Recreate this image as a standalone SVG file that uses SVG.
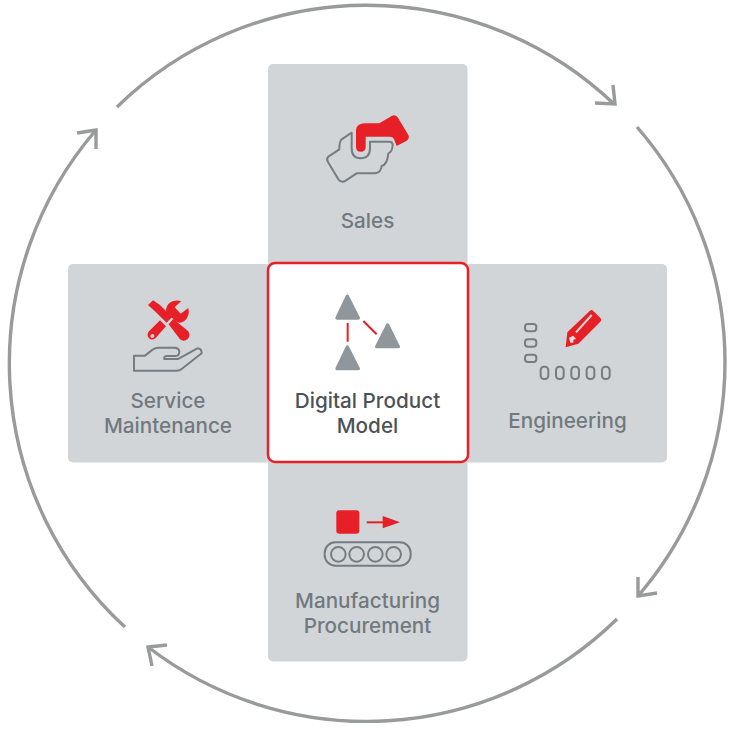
<svg xmlns="http://www.w3.org/2000/svg" width="731" height="731" viewBox="0 0 731 731">
<style>
text{font-family:Inter,"Liberation Sans",Arial,sans-serif;font-size:20.700px;font-weight:500;text-anchor:middle;fill:#71797e}
.panel{fill:#d1d5d8}
.ring{fill:none;stroke:#999a9b;stroke-width:3.4}
.ol{fill:none;stroke:#757d82;stroke-width:6;stroke-linejoin:round;stroke-linecap:round}
.red{fill:#e71f26}
.tri{fill:#8f979c;stroke:#8f979c;stroke-width:10;stroke-linejoin:round}
.rl{stroke:#e71f26;stroke-width:6;fill:none}
</style>
<rect width="731" height="731" fill="#fff"/>
<g id="connectors">
<path class="ring" d="M117 107A358 358 0 0 1 614 104M613 85L615 104L595 103"/>
<path class="ring" d="M637 127A358 358 0 0 1 638 596M638 577L638 596L657 593"/>
<path class="ring" d="M617 619A358 358 0 0 1 148 647M167 645L148 647L152 666"/>
<path class="ring" d="M125 627A358 358 0 0 1 96 130M77 133L96 130L96 149"/>
</g>
<g id="panels">
<rect class="panel" x="268" y="64" width="199.500" height="597.500" rx="5"/>
<rect class="panel" x="68" y="264" width="599" height="198.500" rx="5"/>
</g>
<g id="sales">
<g transform="translate(300 90) scale(.3333)">
<path class="ol" d="M155 128L125 148Q118 155 118 178L85 200Q78 208 84 216L115 268Q125 280 137 272L170 250H225Q243 248 245 228Q262 224 265 190Q277 186 278 165Q278 155 268 155H210V175Q210 205 182 205Q155 205 155 175Z"/>
<path class="red" d="M168 120Q170 100 195 100H238L275 78Q285 72 293 82L325 135Q330 145 320 152L290 168L283 150Q280 140 268 140H197V170Q197 185 182 185Q168 185 168 170Z"/>
</g>
<text x="367.500" y="228">Sales</text>
</g>
<g id="service">
<g transform="translate(110 285) scale(.3333)">
<path class="red" d="M114 60L129 46L150 60L186 96L170 113L134 78Z"/>
<path class="red" d="M176 118L190 102L234 138Q243 150 234 161Q222 172 210 163Z"/>
<path class="red" d="M172 94Q162 70 176 56Q192 42 214 48L194 67L212 86L235 69Q241 94 222 109Q208 118 196 108L186 98Z"/>
<path class="red" fill-rule="evenodd" d="M150 106L168 124L137 159Q126 168 117 160Q108 150 117 139ZM127 147A6 6 0 1 0 127.100 147Z"/>
<path class="ol" d="M72 212H105L128 194Q135 188 145 188H195Q208 190 208 200Q208 213 195 213H170Q160 215 163 222H205L262 190Q275 190 275 205L215 252Q210 257 200 257H72Z"/>
</g>
<text x="168" y="408">Service</text>
<text x="168" y="433">Maintenance</text>
</g>
<g id="engineering">
<g transform="translate(510 295) scale(.3333)">
<g class="ol">
<rect x="45" y="87" width="34" height="22" rx="9"/>
<rect x="45" y="133" width="34" height="22" rx="9"/>
<rect x="45" y="179" width="34" height="22" rx="9"/>
<rect x="92" y="215" width="23" height="37" rx="10"/>
<rect x="138" y="215" width="23" height="37" rx="10"/>
<rect x="184" y="215" width="23" height="37" rx="10"/>
<rect x="230" y="215" width="23" height="37" rx="10"/>
<rect x="276" y="215" width="23" height="37" rx="10"/>
</g>
<path class="red" d="M167 157L172 112L240 47Q245 43 250 48L272 70Q276 76 271 80L205 146Z"/>
<path d="M198 112L245 60" stroke="#e8dcdc" stroke-width="6" fill="none"/>
<path d="M177 128L190 122L198 132L190 134L190 143L181 143Z" fill="#e8dcdc"/>
</g>
<text x="567.500" y="428">Engineering</text>
</g>
<g id="manufacturing">
<g transform="translate(310 495) scale(.3333)">
<rect class="red" x="79" y="46" width="69" height="70" rx="9"/>
<path class="rl" d="M170 82H222"/>
<path class="red" d="M218 63L270 82L218 100Z"/>
<g class="ol">
<rect x="44" y="142" width="258" height="70" rx="32"/>
<circle cx="85" cy="178" r="22"/>
<circle cx="140" cy="178" r="22"/>
<circle cx="196" cy="178" r="22"/>
<circle cx="251" cy="178" r="22"/>
</g>
</g>
<text x="367.500" y="608">Manufacturing</text>
<text x="367.500" y="633">Procurement</text>
</g>
<g id="center">
<rect x="268" y="263" width="200" height="199" rx="7" fill="#fff" stroke="#e71f26" stroke-width="2.500"/>
<g transform="translate(260 255) scale(.3333)">
<path class="tri" d="M262 124L231 189H295Z"/>
<path class="tri" d="M383 210L350 275H415Z"/>
<path class="tri" d="M262 276L231 341H295Z"/>
<path class="rl" d="M263 204V260M310 198L350 238"/>
</g>
<text x="367.500" y="408" style="fill:#4b5258">Digital Product</text>
<text x="367.500" y="433" style="fill:#4b5258">Model</text>
</g>
</svg>
